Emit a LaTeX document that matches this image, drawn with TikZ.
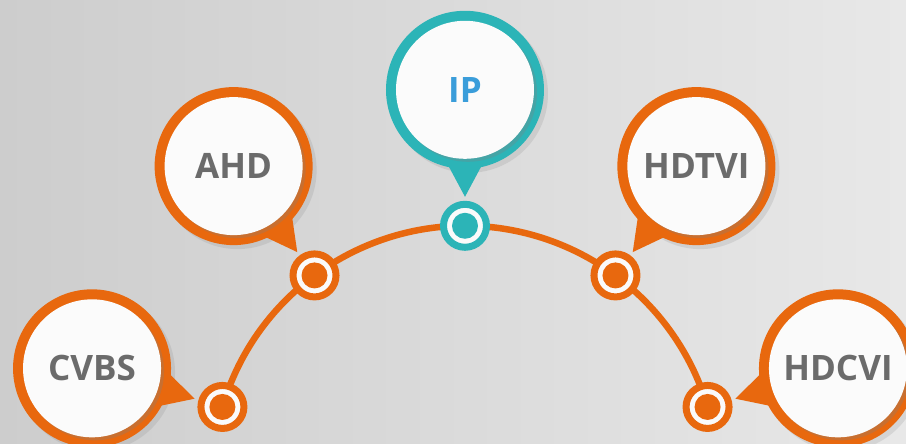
\documentclass[tikz,border=0pt]{standalone}
\usepackage{fontspec}
\setsansfont{Open Sans}
\usetikzlibrary{calc,shadows}

\definecolor{camorange}{HTML}{E8680E}
\definecolor{camteal}{HTML}{2CB4B7}
\definecolor{labelgray}{HTML}{6B6B6B}
\definecolor{ipblue}{HTML}{3A9DDA}
\definecolor{wallleft}{HTML}{CDCDCD}
\definecolor{wallright}{HTML}{E8E8E8}

\begin{document}
\begin{tikzpicture}[x=1pt,y=1pt,
  ring/.style={circle, fill=#1, minimum size=158pt, inner sep=0pt,
    drop shadow={opacity=0.18, shadow xshift=4pt, shadow yshift=-4pt}},
  face/.style={circle, fill=white!97!gray, minimum size=138pt, inner sep=0pt,
    text=labelgray, font=\sffamily\bfseries\fontsize{35}{40}\selectfont,
    drop shadow={opacity=0.3, shadow xshift=3pt, shadow yshift=-3pt}},
  dotring/.style={circle, draw=#1, line width=7pt, fill=white!96!gray, minimum size=43pt, inner sep=0pt},
  arcline/.style={draw=camorange, line width=6.5pt}]

\useasboundingbox (-465,34.8) rectangle (441,478.8);
\shade[left color=wallleft, right color=wallright] (-465,34.8) rectangle (441,478.8);

% markers on the arc
\coordinate (cvbs-pos) at (163.5:253);
\coordinate (ahd-pos) at (126.5:253);
\coordinate (ip-pos) at (90:253);
\coordinate (hdtvi-pos) at (53.5:253);
\coordinate (hdcvi-pos) at (16.5:253);

\draw[arcline] (cvbs-pos) arc[start angle=163.5, end angle=16.5, radius=253];

\node[dotring=camorange] (cvbs-dot) at (cvbs-pos) {};
\node[dotring=camorange] (ahd-dot) at (ahd-pos) {};
\node[dotring=camteal] (ip-dot) at (ip-pos) {};
\node[dotring=camorange] (hdtvi-dot) at (hdtvi-pos) {};
\node[dotring=camorange] (hdcvi-dot) at (hdcvi-pos) {};

\fill[camorange] (cvbs-dot) circle (13pt);
\fill[camorange] (ahd-dot) circle (13pt);
\fill[camteal] (ip-dot) circle (13pt);
\fill[camorange] (hdtvi-dot) circle (13pt);
\fill[camorange] (hdcvi-dot) circle (13pt);

% bubbles
\node[ring=camorange] (cvbs) at (163.5:389) {};
\node[ring=camorange] (ahd) at (126.5:389) {};
\node[ring=camteal] (ip) at (90:389) {};
\node[ring=camorange] (hdtvi) at (53.5:389) {};
\node[ring=camorange] (hdcvi) at (16.5:389) {};

\fill[camorange] ($(cvbs)!70pt!18:(cvbs-dot)$) -- ($(cvbs)!107pt!(cvbs-dot)$) -- ($(cvbs)!70pt!-18:(cvbs-dot)$) -- cycle;
\fill[camorange] ($(ahd)!70pt!18:(ahd-dot)$) -- ($(ahd)!107pt!(ahd-dot)$) -- ($(ahd)!70pt!-18:(ahd-dot)$) -- cycle;
\fill[camteal] ($(ip)!70pt!18:(ip-dot)$) -- ($(ip)!107pt!(ip-dot)$) -- ($(ip)!70pt!-18:(ip-dot)$) -- cycle;
\fill[camorange] ($(hdtvi)!70pt!18:(hdtvi-dot)$) -- ($(hdtvi)!107pt!(hdtvi-dot)$) -- ($(hdtvi)!70pt!-18:(hdtvi-dot)$) -- cycle;
\fill[camorange] ($(hdcvi)!70pt!18:(hdcvi-dot)$) -- ($(hdcvi)!107pt!(hdcvi-dot)$) -- ($(hdcvi)!70pt!-18:(hdcvi-dot)$) -- cycle;

\node[face] (cvbs-text) at (cvbs) {CVBS};
\node[face] (ahd-text) at (ahd) {AHD};
\node[face, text=ipblue] (ip-text) at (ip) {IP};
\node[face] (hdtvi-text) at (hdtvi) {HDTVI};
\node[face] (hdcvi-text) at (hdcvi) {HDCVI};
\end{tikzpicture}
\end{document}
